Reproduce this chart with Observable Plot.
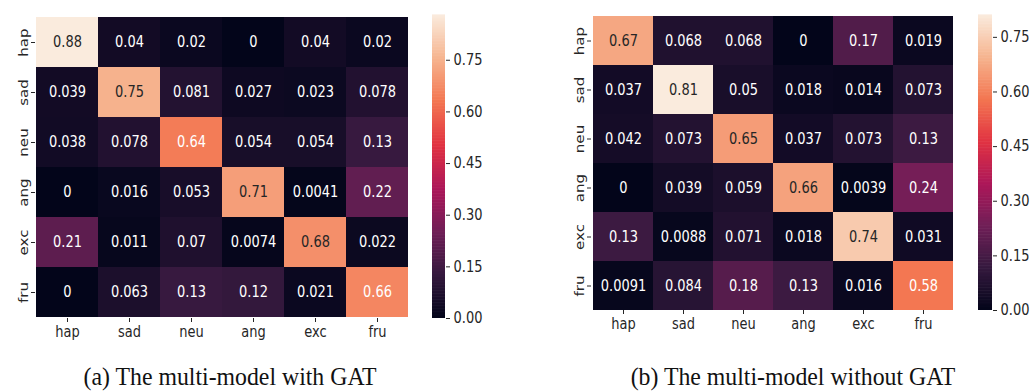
<!DOCTYPE html>
<html>
<head>
<meta charset="utf-8">
<script src="https://cdn.jsdelivr.net/npm/d3@7"></script>
<script src="https://cdn.jsdelivr.net/npm/@observablehq/plot@0.6"></script>
<style>
  html, body { margin: 0; padding: 0; background: #fff; }
  #root { position: relative; width: 1032px; height: 391px; overflow: hidden; font-family: "DejaVu Sans", sans-serif; }
  .abs { position: absolute; }
  .cap { position: absolute; font-family: "Liberation Serif", "Times New Roman", serif; font-size: 26px; line-height: 26px; color: #111; white-space: nowrap; transform: translateX(-50%) scaleX(0.915); transform-origin: 50% 50%; }
</style>
</head>
<body>
<div id="root"></div>
<script>
// ---- data ----
const labels = ["hap", "sad", "neu", "ang", "exc", "fru"];
const withGAT = [
  [0.88, 0.04, 0.02, 0, 0.04, 0.02],
  [0.039, 0.75, 0.081, 0.027, 0.023, 0.078],
  [0.038, 0.078, 0.64, 0.054, 0.054, 0.13],
  [0, 0.016, 0.053, 0.71, 0.0041, 0.22],
  [0.21, 0.011, 0.07, 0.0074, 0.68, 0.022],
  [0, 0.063, 0.13, 0.12, 0.021, 0.66]
];
const withoutGAT = [
  [0.67, 0.068, 0.068, 0, 0.17, 0.019],
  [0.037, 0.81, 0.05, 0.018, 0.014, 0.073],
  [0.042, 0.073, 0.65, 0.037, 0.073, 0.13],
  [0, 0.039, 0.059, 0.66, 0.0039, 0.24],
  [0.13, 0.0088, 0.071, 0.018, 0.74, 0.031],
  [0.0091, 0.084, 0.18, 0.13, 0.016, 0.58]
];
const colorbarTicks = [0, 0.15, 0.30, 0.45, 0.60, 0.75];
const captions = ["(a) The multi-model with GAT", "(b) The multi-model without GAT"];

// seaborn "rocket"-like colormap
const rocket = d3.piecewise(d3.interpolateRgb, ["#03051a", "#35193e", "#701f57", "#ad1759", "#e13342", "#f37651", "#f6b48f", "#faebdd"]);

const root = document.getElementById("root");
const axisColor = "#262626";
const stretch = 1.16;

function stretchText(svg) {
  svg.querySelectorAll("text").forEach(t => {
    let tr = t.getAttribute("transform") || "";
    if (/rotate\(/.test(tr)) tr = tr.replace(/rotate\(/, `scale(1,${stretch}) rotate(`);
    else tr = tr + ` scale(1,${stretch})`;
    t.setAttribute("transform", tr.trim());
  });
}

function tidy(matrix) {
  const out = [];
  matrix.forEach((row, i) => row.forEach((v, j) => out.push({true: labels[i], pred: labels[j], v})));
  return out;
}

function heatmap(matrix, opts) {
  const data = tidy(matrix);
  const max = d3.max(data, d => d.v);
  const p = Plot.plot({
    width: opts.width, height: opts.height,
    marginLeft: 35, marginRight: 12, marginTop: 15, marginBottom: opts.height - opts.frameBottom,
    style: {fontFamily: "DejaVu Sans, sans-serif", fontSize: "13px", color: axisColor, background: "transparent"},
    x: {domain: labels, padding: 0, label: null, tickSize: 4, tickPadding: 4},
    y: {domain: labels, padding: 0, label: null, tickSize: 4, tickPadding: 4, tickRotate: -90},
    color: {type: "linear", domain: [0, max], interpolate: rocket},
    marks: [
      Plot.cell(data, {x: "pred", y: "true", fill: "v", inset: 0}),
      Plot.text(data, {x: "pred", y: "true", text: d => String(d.v),
        fill: d => d.v / max > 0.76 ? "#262626" : "#ffffff", fontSize: 13})
    ]
  });
  stretchText(p);
  p.classList.add("abs");
  p.style.left = opts.left + "px";
  p.style.top = "0px";
  root.appendChild(p);
  return max;
}

function colorbar(max, opts) {
  const steps = d3.range(0, 200).map(i => ({y1: max * i / 200, y2: max * (i + 1) / 200}));
  const p = Plot.plot({
    width: 70, height: opts.height,
    marginLeft: 0, marginRight: 70 - opts.barWidth, marginTop: 15, marginBottom: opts.height - opts.frameBottom,
    style: {fontFamily: "DejaVu Sans, sans-serif", fontSize: "13px", color: axisColor, background: "transparent"},
    x: {axis: null, domain: [0, 1]},
    y: {domain: [0, max], axis: "right", ticks: colorbarTicks, tickFormat: ".2f", tickSize: 4, tickPadding: 4, label: null},
    color: {type: "linear", domain: [0, max], interpolate: rocket},
    marks: [
      Plot.rect(steps, {x1: 0, x2: 1, y1: "y1", y2: d => d.y2 + max * 0.002, fill: d => (d.y1 + d.y2) / 2})
    ]
  });
  stretchText(p);
  p.classList.add("abs");
  p.style.left = opts.left + "px";
  p.style.top = "0px";
  root.appendChild(p);
}

const m1 = heatmap(withGAT, {left: 0, width: 420, height: 345, frameBottom: 318});
colorbar(m1, {left: 432, height: 345, frameBottom: 318, barWidth: 13});
const m2 = heatmap(withoutGAT, {left: 556, width: 411, height: 340, frameBottom: 310});
colorbar(m2, {left: 978, height: 340, frameBottom: 310, barWidth: 14});

[[captions[0], 230], [captions[1], 793]].forEach(([t, x]) => {
  const d = document.createElement("div");
  d.className = "cap";
  d.textContent = t;
  d.style.left = x + "px";
  d.style.top = "364px";
  root.appendChild(d);
});
</script>
</body>
</html>
